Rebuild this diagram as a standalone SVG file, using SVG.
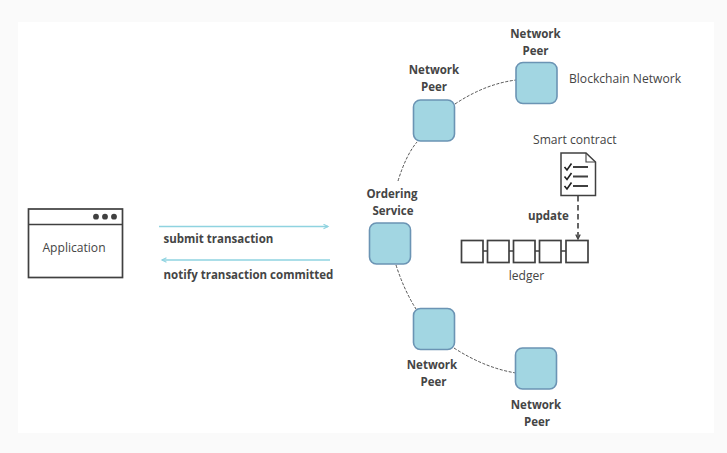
<svg xmlns="http://www.w3.org/2000/svg" width="727" height="453" viewBox="0 0 727 453">
<defs>
<marker id="cy" markerUnits="userSpaceOnUse" markerWidth="7" markerHeight="6" refX="5" refY="3" orient="auto-start-reverse"><path d="M0.500 0.800L5 3L0.500 5.200" fill="none" stroke="#8fd3e0" stroke-width="1.200"/></marker>
<marker id="bk" markerUnits="userSpaceOnUse" markerWidth="7" markerHeight="6" refX="5" refY="3" orient="auto"><path d="M0.500 0.800L5 3L0.500 5.200" fill="none" stroke="#404040" stroke-width="1.300"/></marker>
</defs>
<style>
text{font-family:"Open Sans","Liberation Sans",sans-serif;fill:#454545;font-size:12.100px}
.b{font-weight:700;font-size:11.500px}
.m{text-anchor:middle}
.peer{fill:#a2d6e2;stroke:#6b94b4;stroke-width:1.600}
.box{fill:#fff;stroke:#404040;stroke-width:1.700}
.arc{fill:none;stroke:#404040;stroke-width:.9;stroke-dasharray:3 1.600}
.cy{fill:none;stroke:#8fd3e0;stroke-width:1.400}
</style>
<rect width="727" height="453" fill="#fafafa"/>
<rect x="18" y="22" width="696" height="411" fill="#fff"/>
<g id="connectors">
<path class="arc" d="M398 181Q406 155 417 142"/>
<path class="arc" d="M455 104Q485 84 516 80"/>
<path class="arc" d="M396 265Q404 290 416 309"/>
<path class="arc" d="M454 348Q485 368 516 373"/>
<path class="cy" d="M159 226.500H328" marker-end="url(#cy)"/>
<path class="cy" d="M330 260H162" marker-end="url(#cy)"/>
<path d="M578 196V239" fill="none" stroke="#404040" stroke-width="1.600" stroke-dasharray="5.500 3.500" marker-end="url(#bk)"/>
<path d="M483 251H488M509 251H514M535 251H540M561 251H566" stroke="#404040" stroke-width="1.500"/>
</g>
<g id="application">
<rect class="box" x="28.500" y="209" width="94" height="68.500"/>
<path d="M28.500 224.500H122.500" stroke="#404040" stroke-width="1.500"/>
<circle cx="96" cy="216.700" r="2.900" fill="#404040"/><circle cx="105" cy="216.700" r="2.900" fill="#404040"/><circle cx="114" cy="216.700" r="2.900" fill="#404040"/>
<text class="m" x="74" y="252" font-size="12.500">Application</text>
</g>
<g id="label-submit"><text class="b" x="163.500" y="243">submit transaction</text></g>
<g id="label-notify"><text class="b" x="163.500" y="279">notify transaction committed</text></g>
<g id="ordering-service">
<rect class="peer" x="369.500" y="223" width="41" height="41" rx="7"/>
<text class="b m" x="392" y="198">Ordering</text><text class="b m" x="393" y="215">Service</text>
</g>
<g id="peer-upper">
<rect class="peer" x="413.500" y="100" width="41" height="41" rx="7"/>
<text class="b m" x="434" y="74">Network</text><text class="b m" x="434" y="91">Peer</text>
</g>
<g id="peer-top">
<rect class="peer" x="516" y="62.500" width="41" height="41" rx="7"/>
<text class="b m" x="535.500" y="38">Network</text><text class="b m" x="535.500" y="55">Peer</text>
</g>
<g id="peer-lower">
<rect class="peer" x="413.500" y="308.500" width="41" height="41" rx="7"/>
<text class="b m" x="432" y="369">Network</text><text class="b m" x="433.500" y="386">Peer</text>
</g>
<g id="peer-bottom">
<rect class="peer" x="515.500" y="348" width="41" height="41" rx="7"/>
<text class="b m" x="536" y="409">Network</text><text class="b m" x="537" y="426">Peer</text>
</g>
<g id="blockchain-network"><text x="569" y="83">Blockchain Network</text></g>
<g id="smart-contract">
<text x="533" y="144">Smart contract</text>
<path d="M561 153H586L595.500 162V195.500H561Z" fill="#fff" stroke="#404040" stroke-width="1.500"/>
<path d="M586 153V162H595.500" fill="none" stroke="#404040" stroke-width="1.100"/>
<path d="M564.500 167L567 170L571.500 163.500M564.500 176.500L567 179.500L571.500 173M564.500 186L567 189L571.500 182.500" fill="none" stroke="#202020" stroke-width="1.600"/>
<path d="M573 167H588M573 176.500H588M573 186H588" stroke="#404040" stroke-width="2"/>
</g>
<g id="update"><text class="b" x="528" y="220">update</text></g>
<g id="ledger">
<rect class="box" x="461.500" y="240.500" width="21.500" height="22"/>
<rect class="box" x="487.500" y="240.500" width="21.500" height="22"/>
<rect class="box" x="513.500" y="240.500" width="21.500" height="22"/>
<rect class="box" x="539.500" y="240.500" width="21.500" height="22"/>
<rect class="box" x="566" y="240.500" width="22" height="22"/>
<text class="m" x="526.500" y="280">ledger</text>
</g>
</svg>
